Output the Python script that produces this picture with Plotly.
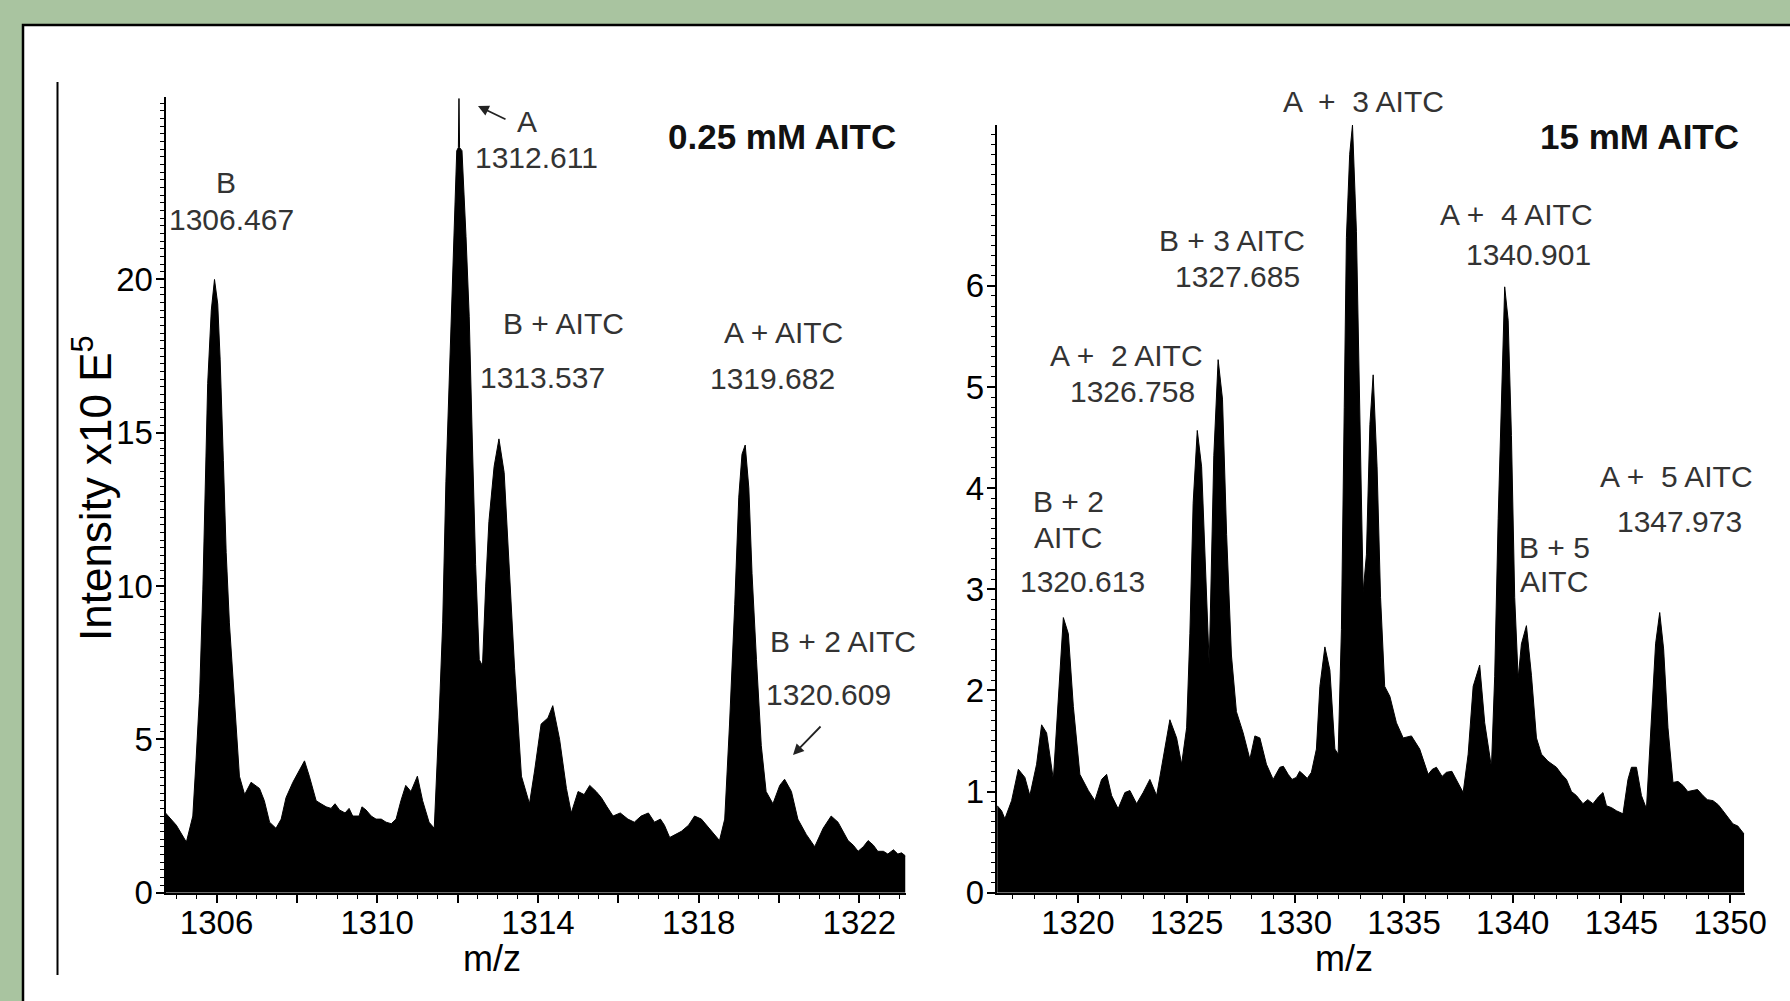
import plotly.graph_objects as go

# ---------------- data ----------------
# Left panel: 0.25 mM AITC
mz_left = [1304.73, 1305.00, 1305.25, 1305.41, 1305.49, 1305.58, 1305.66, 1305.73, 1305.78, 1305.87,
           1305.95, 1306.03, 1306.09, 1306.17, 1306.24, 1306.32, 1306.41, 1306.49, 1306.57, 1306.70,
           1306.86, 1307.07, 1307.19, 1307.32, 1307.48, 1307.61, 1307.73, 1307.90, 1308.02, 1308.19,
           1308.31, 1308.48, 1308.73, 1309.06, 1309.39, 1309.72, 1309.97, 1310.22, 1310.47, 1310.59,
           1310.71, 1310.84, 1311.00, 1311.13, 1311.29, 1311.42, 1311.54, 1311.63, 1311.71, 1311.83,
           1311.92, 1311.98, 1312.02, 1312.035, 1312.05, 1312.11, 1312.21, 1312.29, 1312.37, 1312.45,
           1312.54, 1312.62, 1312.70, 1312.78, 1312.91, 1313.03, 1313.16, 1313.28, 1313.42, 1313.59,
           1313.79, 1313.92, 1314.08, 1314.25, 1314.37, 1314.54, 1314.71, 1314.83, 1315.00, 1315.29,
           1315.58, 1315.87, 1316.24, 1316.57, 1316.90, 1317.15, 1317.28, 1317.57, 1317.90, 1318.07,
           1318.32, 1318.52, 1318.65, 1318.77, 1318.90, 1319.00, 1319.08, 1319.16, 1319.25, 1319.33,
           1319.44, 1319.56, 1319.68, 1319.85, 1320.02, 1320.14, 1320.31, 1320.47, 1320.68, 1320.89,
           1321.10, 1321.30, 1321.47, 1321.72, 1321.97, 1322.22, 1322.46, 1322.71, 1322.96, 1323.15]
int_left = [2.6, 2.2, 1.65, 2.5, 4.3, 6.5, 9.9, 13.9, 16.6, 19.0,
            20.0, 19.2, 17.4, 14.1, 11.1, 8.8, 6.9, 5.2, 3.8, 3.2,
            3.6, 3.4, 3.0, 2.3, 2.1, 2.4, 3.1, 3.6, 3.9, 4.3,
            3.8, 3.0, 2.8, 2.7, 2.5, 2.7, 2.4, 2.3, 2.4, 3.0,
            3.5, 3.3, 3.8, 3.0, 2.3, 2.1, 5.7, 8.8, 13.4, 18.1,
            21.2, 24.2, 24.3, 25.9, 24.3, 24.2, 21.4, 18.8, 14.6, 10.7,
            7.6, 7.4, 10.0, 12.1, 13.9, 14.8, 13.7, 10.7, 7.3, 3.8,
            2.9, 4.0, 5.5, 5.7, 6.1, 5.0, 3.4, 2.6, 3.3, 3.5,
            3.1, 2.5, 2.4, 2.5, 2.3, 2.2, 1.8, 2.0, 2.5, 2.4,
            2.0, 1.7, 2.4, 5.5, 9.4, 12.9, 14.3, 14.6, 13.2, 10.4,
            7.6, 4.8, 3.3, 2.9, 3.5, 3.7, 3.3, 2.4, 1.9, 1.5,
            2.1, 2.5, 2.3, 1.7, 1.35, 1.7, 1.35, 1.26, 1.26, 1.2]
# extra noise teeth read on the baseline of the left trace
mz_left_teeth = [1308.60, 1308.85, 1308.95, 1309.20, 1309.30, 1309.55, 1309.62, 1309.85,
                 1310.10, 1310.35, 1315.15, 1315.45, 1315.72, 1316.05, 1316.40, 1316.75,
                 1317.05, 1317.75, 1321.85, 1322.10, 1322.35, 1322.60, 1322.85, 1323.05]
int_left_teeth = [2.9, 2.75, 2.9, 2.6, 2.75, 2.5, 2.8, 2.5,
                  2.4, 2.25, 3.2, 3.3, 2.8, 2.6, 2.3, 2.6,
                  2.4, 2.2, 1.55, 1.5, 1.55, 1.35, 1.4, 1.3]

# Right panel: 15 mM AITC
mz_right = [1316.29, 1316.49, 1316.64, 1316.95, 1317.26, 1317.56, 1317.79, 1318.10, 1318.33, 1318.56,
            1318.87, 1319.10, 1319.33, 1319.56, 1319.79, 1320.09, 1320.48, 1320.78, 1321.09, 1321.32,
            1321.55, 1321.85, 1322.16, 1322.39, 1322.70, 1323.00, 1323.31, 1323.62, 1323.92, 1324.23,
            1324.54, 1324.77, 1325.00, 1325.15, 1325.30, 1325.49, 1325.69, 1325.84, 1326.04, 1326.25,
            1326.45, 1326.65, 1326.84, 1327.06, 1327.29, 1327.60, 1327.91, 1328.14, 1328.37, 1328.67,
            1328.98, 1329.29, 1329.67, 1330.05, 1330.36, 1330.74, 1330.97, 1331.13, 1331.36, 1331.59,
            1331.82, 1331.97, 1332.12, 1332.25, 1332.35, 1332.50, 1332.63, 1332.81, 1332.97, 1333.12,
            1333.27, 1333.43, 1333.58, 1333.76, 1333.92, 1334.11, 1334.35, 1334.65, 1334.96, 1335.34,
            1335.72, 1336.11, 1336.49, 1336.95, 1337.41, 1337.72, 1337.95, 1338.18, 1338.48, 1338.71,
            1339.02, 1339.17, 1339.33, 1339.51, 1339.63, 1339.79, 1339.94, 1340.09, 1340.25, 1340.40,
            1340.63, 1340.86, 1341.09, 1341.32, 1341.62, 1342.01, 1342.47, 1342.93, 1343.23, 1343.69,
            1344.15, 1344.31, 1344.77, 1345.07, 1345.30, 1345.46, 1345.69, 1345.92, 1346.15, 1346.38,
            1346.57, 1346.76, 1346.94, 1347.14, 1347.37, 1347.83, 1348.29, 1348.75, 1349.21, 1349.67,
            1350.13, 1350.59, 1350.64]
int_right = [0.86, 0.81, 0.73, 0.91, 1.22, 1.14, 0.96, 1.27, 1.66, 1.58,
             1.12, 1.89, 2.72, 2.56, 1.84, 1.17, 1.01, 0.91, 1.12, 1.17,
             0.96, 0.83, 0.99, 1.01, 0.88, 0.99, 1.12, 0.96, 1.32, 1.71,
             1.53, 1.27, 1.63, 2.56, 3.85, 4.57, 4.21, 3.44, 2.25, 4.32,
             5.27, 4.88, 3.54, 2.35, 1.79, 1.58, 1.32, 1.55, 1.53, 1.27,
             1.12, 1.24, 1.17, 1.14, 1.17, 1.19, 1.42, 2.04, 2.43, 2.20,
             1.42, 1.37, 2.6, 4.8, 6.48, 7.3, 7.59, 6.54, 4.73, 2.97,
             3.34, 4.63, 5.12, 4.21, 2.92, 2.04, 1.94, 1.68, 1.53, 1.55,
             1.42, 1.17, 1.24, 1.19, 1.12, 0.99, 1.37, 2.04, 2.25, 1.68,
             1.24, 2.14, 3.70, 5.14, 5.99, 5.66, 4.52, 2.92, 2.12, 2.46,
             2.64, 2.15, 1.53, 1.37, 1.30, 1.24, 1.12, 0.96, 0.88, 0.88,
             0.99, 0.86, 0.81, 0.78, 1.12, 1.24, 1.24, 0.96, 0.83, 1.73,
             2.46, 2.77, 2.41, 1.63, 1.09, 1.06, 1.01, 0.96, 0.91, 0.81,
             0.68, 0.60, 0.58]
# extra noise teeth read on the baseline of the right trace
mz_right_teeth = [1329.45, 1329.85, 1330.20, 1330.55, 1336.30, 1336.75, 1337.20,
                  1342.25, 1342.70, 1343.45, 1343.95, 1344.55, 1347.60, 1348.05,
                  1348.50, 1348.95, 1349.45, 1349.90, 1350.35]
int_right_teeth = [1.25, 1.12, 1.2, 1.13, 1.22, 1.15, 1.2,
                   1.17, 1.0, 0.92, 0.95, 0.84, 1.1, 1.0,
                   1.02, 0.92, 0.87, 0.74, 0.66]

assert len(mz_left) == len(int_left) and len(mz_left_teeth) == len(int_left_teeth)
assert len(mz_right) == len(int_right) and len(mz_right_teeth) == len(int_right_teeth)

left_x_major = [1306, 1308, 1310, 1312, 1314, 1316, 1318, 1320, 1322]
left_x_labels = ["1306", "", "1310", "", "1314", "", "1318", "", "1322"]
left_y_ticks = [0, 5, 10, 15, 20]
right_x_ticks = [1320, 1325, 1330, 1335, 1340, 1345, 1350]
right_y_ticks = [0, 1, 2, 3, 4, 5, 6]

left_title = "0.25 mM AITC"
right_title = "15 mM AITC"
NB = "\u00a0"
# (text, x_px, y_px)
peak_labels = [
    ("B", 226, 182), ("1306.467", 231, 219),
    ("A", 527, 122), ("1312.611", 536, 157),
    ("B + AITC", 563, 323), ("1313.537", 542, 377),
    ("A + AITC", 783, 333), ("1319.682", 772, 378),
    ("B + 2 AITC", 843, 641), ("1320.609", 828, 694),
    ("A " + NB + "+" + NB + " 3 AITC", 1363, 102),
    ("B + 3 AITC", 1232, 240), ("1327.685", 1237, 276),
    ("A +" + NB + " 2 AITC", 1126, 355), ("1326.758", 1132, 391),
    ("B + 2", 1068, 501), ("AITC", 1068, 537), ("1320.613", 1082, 581),
    ("A +" + NB + " 4 AITC", 1516, 215), ("1340.901", 1528, 254),
    ("A +" + NB + " 5 AITC", 1676, 476), ("1347.973", 1679, 521),
    ("B + 5", 1554, 547), ("AITC", 1554, 581),
]

# merge the main reading with the baseline teeth, ordered by m/z
left_pts = sorted(zip(mz_left + mz_left_teeth, int_left + int_left_teeth))
right_pts = sorted(zip(mz_right + mz_right_teeth, int_right + int_right_teeth))

# ---------------- layout helpers ----------------
W, H = 1790, 1001
def px(x):
    return x / W
def py(y):
    return 1 - y / H

FONT = "Liberation Sans, Arial, sans-serif"
GREEN = "#a9c4a0"

fig = go.Figure()
fig.add_trace(go.Scatter(x=[p[0] for p in left_pts], y=[p[1] for p in left_pts],
                         mode="lines", fill="tozeroy",
                         line=dict(color="black", width=1), fillcolor="black",
                         xaxis="x", yaxis="y", showlegend=False, hoverinfo="skip"))
fig.add_trace(go.Scatter(x=[p[0] for p in right_pts], y=[p[1] for p in right_pts],
                         mode="lines", fill="tozeroy",
                         line=dict(color="black", width=1), fillcolor="black",
                         xaxis="x2", yaxis="y2", showlegend=False, hoverinfo="skip"))

tickfont = dict(family=FONT, size=33, color="black")
common = dict(showline=True, linecolor="black", linewidth=2, showgrid=False, zeroline=False,
              ticks="outside", tickcolor="black", tickwidth=1.5, ticklen=8, tickfont=tickfont,
              automargin=False)

fig.update_layout(
    width=W, height=H, autosize=False,
    margin=dict(l=0, r=0, t=0, b=0, pad=0, autoexpand=False),
    paper_bgcolor=GREEN, plot_bgcolor="white", showlegend=False,
    xaxis=dict(domain=[px(165.5), px(905.5)], range=[1304.73, 1323.15],
               tickvals=left_x_major, ticktext=left_x_labels, anchor="y",
               ticklabelstandoff=-8,
               minor=dict(ticks="outside", ticklen=4, tickwidth=1, dtick=0.5, tick0=1306,
                          tickcolor="black", showgrid=False), **common),
    yaxis=dict(domain=[py(892.7), py(97)], range=[0, 25.95], tickvals=left_y_ticks,
               anchor="x", ticklabelstandoff=-4,
               minor=dict(ticks="outside", ticklen=4, tickwidth=1, dtick=0.25, tick0=0,
                          tickcolor="black", showgrid=False), **common),
    xaxis2=dict(domain=[px(996.6), px(1744.5)], range=[1316.26, 1350.66],
                tickvals=right_x_ticks, anchor="y2", ticklabelstandoff=-8,
                minor=dict(ticks="outside", ticklen=4, tickwidth=1, dtick=1, tick0=1320,
                           tickcolor="black", showgrid=False), **common),
    yaxis2=dict(domain=[py(892.7), py(125)], range=[0, 7.59], tickvals=right_y_ticks,
                anchor="x2", ticklabelstandoff=-4,
                minor=dict(ticks="outside", ticklen=4, tickwidth=1, dtick=0.1, tick0=0,
                           tickcolor="black", showgrid=False), **common),
)

# white frame with black top/left border, and the left rule
fig.add_shape(type="rect", xref="paper", yref="paper", x0=px(23), x1=1.05, y0=-0.05, y1=py(25),
              fillcolor="white", line=dict(color="black", width=2.5), layer="below")
fig.add_shape(type="line", xref="paper", yref="paper", x0=px(57.5), x1=px(57.5),
              y0=py(82), y1=py(975), line=dict(color="black", width=2))

annotations = []
for text, x, y in peak_labels:
    annotations.append(dict(text=text, x=px(x), y=py(y), xref="paper", yref="paper",
                            xanchor="center", yanchor="middle", showarrow=False,
                            font=dict(family=FONT, size=30, color="#333333")))
# panel titles
annotations.append(dict(text="<b>" + left_title + "</b>", x=px(782), y=py(136), xref="paper",
                        yref="paper", showarrow=False, xanchor="center", yanchor="middle",
                        font=dict(family=FONT, size=35, color="#111111")))
annotations.append(dict(text="<b>" + right_title + "</b>", x=px(1639), y=py(136), xref="paper",
                        yref="paper", showarrow=False, xanchor="center", yanchor="middle",
                        font=dict(family=FONT, size=35, color="#111111")))
# axis titles
for xx in (492, 1344):
    annotations.append(dict(text="m/z", x=px(xx), y=py(958), xref="paper", yref="paper",
                            showarrow=False, xanchor="center", yanchor="middle",
                            font=dict(family=FONT, size=36, color="black")))
annotations.append(dict(text="Intensity x10 E<sup>5</sup>", x=px(93), y=py(488), xref="paper",
                        yref="paper", showarrow=False, textangle=-90, xanchor="center",
                        yanchor="middle", font=dict(family=FONT, size=44, color="black")))
# arrows
annotations.append(dict(text="", x=px(478), y=py(106), xref="paper", yref="paper",
                        showarrow=True, ax=29, ay=14, arrowhead=2, arrowsize=1.2,
                        arrowwidth=1.8, arrowcolor="#222222"))
annotations.append(dict(text="", x=px(793), y=py(755), xref="paper", yref="paper",
                        showarrow=True, ax=29, ay=-30, arrowhead=2, arrowsize=1.2,
                        arrowwidth=1.8, arrowcolor="#222222"))

fig.update_layout(annotations=annotations)

fig.write_html("out.html", config={"displayModeBar": False},
               post_script="document.body.style.margin='0';document.body.style.overflow='hidden';")
